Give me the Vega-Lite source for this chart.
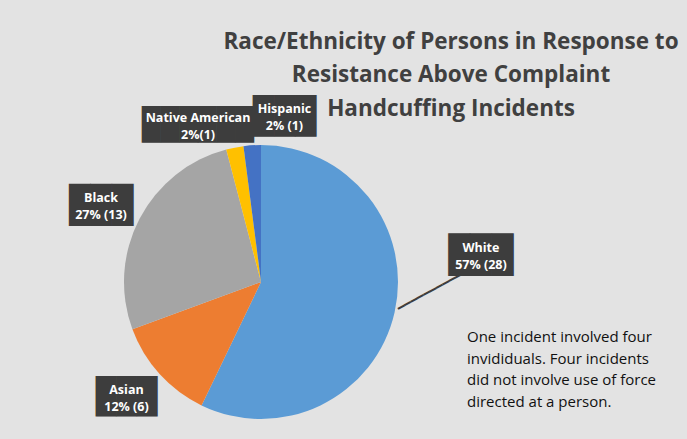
{
  "$schema": "https://vega.github.io/schema/vega-lite/v6.json",
  "autosize": "none",
  "width": 274,
  "height": 274,
  "padding": {"left": 124, "top": 145, "right": 289, "bottom": 20},
  "background": "#e3e3e3",
  "config": {"view": {"stroke": null}, "font": "Open Sans"},
  "title": {
    "text": ["Race/Ethnicity of Persons in Response to", "Resistance Above Complaint", "Handcuffing Incidents"],
    "anchor": "middle", "frame": "group", "font": "Open Sans", "fontSize": 22.5,
    "fontWeight": "bold", "color": "#404040", "lineHeight": 33.5, "dx": 190,
    "offset": -108
  },
  "data": {
    "values": [
      {"race": "White", "count": 28, "order": 1, "label": ["White", "57% (28)"]},
      {"race": "Asian", "count": 6, "order": 2, "label": ["Asian", "12% (6)"]},
      {"race": "Black", "count": 13, "order": 3, "label": ["Black", "27% (13)"]},
      {"race": "Native American", "count": 1, "order": 4, "label": ["Native American", "2%(1)"]},
      {"race": "Hispanic", "count": 1, "order": 5, "label": ["Hispanic", "2% (1)"]}
    ]
  },
  "encoding": {
    "theta": {"field": "count", "type": "quantitative", "stack": true},
    "order": {"field": "order", "type": "quantitative"}
  },
  "layer": [
    {
      "mark": {"type": "arc"},
      "encoding": {
        "color": {
          "field": "race", "type": "nominal",
          "scale": {
            "domain": ["White", "Asian", "Black", "Native American", "Hispanic"],
            "range": ["#5B9BD5", "#ED7D31", "#A5A5A5", "#FFC000", "#4472C4"]
          },
          "legend": {
            "orient": "none", "legendX": 343, "legendY": 185,
            "title": ["One incident involved four", "invididuals. Four incidents", "did not involve use of force", "directed at a person."],
            "titleFont": "Open Sans", "titleFontSize": 15, "titleFontWeight": "normal",
            "titleColor": "#111111", "titleLineHeight": 21.5, "titleLimit": 600,
            "symbolOpacity": 0, "symbolStrokeWidth": 0, "labelExpr": "''", "padding": 0
          }
        }
      }
    },
    {
      "mark": {"type": "text", "font": "DejaVu Sans Mono", "fontSize": 12, "color": "#3d3d3d", "radius": 185, "dx": 8.5, "dy": -33.2, "angle": -28.5, "align": "center", "baseline": "middle"},
      "encoding": {"text": {"condition": {"test": "datum.race === 'White'", "value": "━━━━━━━━━━━"}, "value": ""}}
    },
    {
      "mark": {"type": "text", "font": "DejaVu Sans Mono", "fontSize": 36, "color": "#3d3d3d", "radius": 185, "dx": 39.6, "dy": -67.2, "align": "center", "baseline": "middle"},
      "encoding": {"text": {"condition": {"test": "datum.race === 'White'", "value": "███"}, "value": ""}}
    },
    {
      "mark": {"type": "text", "font": "DejaVu Sans Mono", "fontSize": 34, "color": "#3d3d3d", "radius": 185, "dx": 2.4, "dy": -7.9, "align": "center", "baseline": "middle"},
      "encoding": {"text": {"condition": {"test": "datum.race === 'Asian'", "value": "███"}, "value": ""}}
    },
    {
      "mark": {"type": "text", "font": "DejaVu Sans Mono", "fontSize": 35.5, "color": "#3d3d3d", "radius": 185, "dx": 4, "dy": 9.6, "align": "center", "baseline": "middle"},
      "encoding": {"text": {"condition": {"test": "datum.race === 'Black'", "value": "███"}, "value": ""}}
    },
    {
      "mark": {"type": "text", "font": "DejaVu Sans Mono", "fontSize": 31, "color": "#3d3d3d", "radius": 185, "dx": -27.6, "dy": 25.6, "align": "center", "baseline": "middle"},
      "encoding": {"text": {"condition": {"test": "datum.race === 'Native American'", "value": "██████"}, "value": ""}}
    },
    {
      "mark": {"type": "text", "font": "DejaVu Sans Mono", "fontSize": 35, "color": "#3d3d3d", "radius": 185, "dx": 35.3, "dy": 20.1, "align": "center", "baseline": "middle"},
      "encoding": {"text": {"condition": {"test": "datum.race === 'Hispanic'", "value": "███"}, "value": ""}}
    },
    {
      "mark": {"type": "text", "font": "Open Sans", "fontWeight": "bold", "fontSize": 12.5, "lineHeight": 17, "color": "#ffffff", "radius": 185, "dx": 39.6, "dy": -75.2, "align": "center", "baseline": "middle"},
      "encoding": {"text": {"condition": {"test": "datum.race === 'White'", "field": "label"}, "value": ""}}
    },
    {
      "mark": {"type": "text", "font": "Open Sans", "fontWeight": "bold", "fontSize": 12.5, "lineHeight": 17, "color": "#ffffff", "radius": 185, "dx": 2.4, "dy": -15.9, "align": "center", "baseline": "middle"},
      "encoding": {"text": {"condition": {"test": "datum.race === 'Asian'", "field": "label"}, "value": ""}}
    },
    {
      "mark": {"type": "text", "font": "Open Sans", "fontWeight": "bold", "fontSize": 12.5, "lineHeight": 17, "color": "#ffffff", "radius": 185, "dx": 4, "dy": 1.6, "align": "center", "baseline": "middle"},
      "encoding": {"text": {"condition": {"test": "datum.race === 'Black'", "field": "label"}, "value": ""}}
    },
    {
      "mark": {"type": "text", "font": "Open Sans", "fontWeight": "bold", "fontSize": 12.5, "lineHeight": 17, "color": "#ffffff", "radius": 185, "dx": -27.6, "dy": 17.6, "align": "center", "baseline": "middle"},
      "encoding": {"text": {"condition": {"test": "datum.race === 'Native American'", "field": "label"}, "value": ""}}
    },
    {
      "mark": {"type": "text", "font": "Open Sans", "fontWeight": "bold", "fontSize": 12.5, "lineHeight": 17, "color": "#ffffff", "radius": 185, "dx": 35.3, "dy": 12.1, "align": "center", "baseline": "middle"},
      "encoding": {"text": {"condition": {"test": "datum.race === 'Hispanic'", "field": "label"}, "value": ""}}
    }
  ]
}
